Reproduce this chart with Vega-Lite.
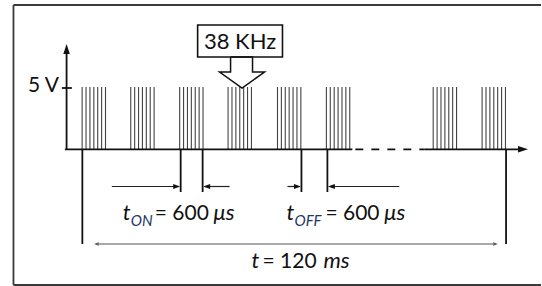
{
  "$schema": "https://vega.github.io/schema/vega-lite/v6.json",
  "width": 542,
  "height": 286,
  "autosize": {"type": "fit", "contains": "padding"},
  "padding": 0,
  "background": "white",
  "config": {"view": {"stroke": null}},
  "datasets": {
    "pulses": [
      {"x": 82.3}, {"x": 86.2}, {"x": 90.1}, {"x": 94.0}, {"x": 97.9}, {"x": 101.8}, {"x": 105.7},
      {"x": 131.0}, {"x": 134.9}, {"x": 138.8}, {"x": 142.7}, {"x": 146.6}, {"x": 150.5}, {"x": 154.4},
      {"x": 180.0}, {"x": 183.9}, {"x": 187.8}, {"x": 191.7}, {"x": 195.6}, {"x": 199.5}, {"x": 203.4},
      {"x": 228.5}, {"x": 232.4}, {"x": 236.3}, {"x": 240.2}, {"x": 244.1}, {"x": 248.0}, {"x": 251.9},
      {"x": 278.0}, {"x": 281.9}, {"x": 285.8}, {"x": 289.7}, {"x": 293.6}, {"x": 297.5}, {"x": 301.4},
      {"x": 327.0}, {"x": 330.9}, {"x": 334.8}, {"x": 338.7}, {"x": 342.6}, {"x": 346.5}, {"x": 350.4},
      {"x": 434.0}, {"x": 437.9}, {"x": 441.8}, {"x": 445.7}, {"x": 449.6}, {"x": 453.5}, {"x": 457.4},
      {"x": 483.0}, {"x": 486.9}, {"x": 490.8}, {"x": 494.7}, {"x": 498.6}, {"x": 502.5}, {"x": 506.4}
    ],
    "frame": [
      {"x": 13.5, "y": 5, "x2": 542, "y2": 5},
      {"x": 13.5, "y": 5, "x2": 13.5, "y2": 285},
      {"x": 13.5, "y": 285, "x2": 542, "y2": 285}
    ],
    "solid": [
      {"x": 66.7, "y": 52, "x2": 66.7, "y2": 150},
      {"x": 62, "y": 88, "x2": 72, "y2": 88},
      {"x": 65, "y": 149.3, "x2": 353, "y2": 149.3},
      {"x": 425, "y": 149.3, "x2": 520, "y2": 149.3},
      {"x": 82.5, "y": 149, "x2": 82.5, "y2": 244},
      {"x": 507, "y": 149, "x2": 507, "y2": 244},
      {"x": 181, "y": 149, "x2": 181, "y2": 192},
      {"x": 203, "y": 149, "x2": 203, "y2": 192},
      {"x": 302, "y": 149, "x2": 302, "y2": 192},
      {"x": 328, "y": 149, "x2": 328, "y2": 192}
    ],
    "thin": [
      {"x": 112, "y": 186.5, "x2": 175, "y2": 186.5},
      {"x": 230, "y": 186.5, "x2": 209, "y2": 186.5},
      {"x": 288, "y": 186.5, "x2": 296, "y2": 186.5},
      {"x": 400, "y": 186.5, "x2": 334, "y2": 186.5}
    ],
    "span": [
      {"x": 96, "y": 244, "x2": 497, "y2": 244}
    ],
    "dashed": [
      {"x": 356, "y": 149.3, "x2": 425, "y2": 149.3}
    ],
    "heads": [
      {"x": 66.7, "y": 44, "dir": "up", "kind": "axis"},
      {"x": 529, "y": 149.3, "dir": "right", "kind": "axis"},
      {"x": 180.5, "y": 186.5, "dir": "right", "kind": "dim"},
      {"x": 203.5, "y": 186.5, "dir": "left", "kind": "dim"},
      {"x": 301.5, "y": 186.5, "dir": "right", "kind": "dim"},
      {"x": 328.5, "y": 186.5, "dir": "left", "kind": "dim"}
    ],
    "open_heads": [
      {"x": 96, "y": 244, "dir": "left"},
      {"x": 497, "y": 244, "dir": "right"}
    ],
    "box": [
      {"x": 198, "y": 25, "x2": 283, "y2": 57}
    ],
    "hollow": [
      {"order": 1, "x": 231, "y": 57},
      {"order": 2, "x": 231, "y": 72},
      {"order": 3, "x": 220, "y": 72},
      {"order": 4, "x": 242.5, "y": 88},
      {"order": 5, "x": 265, "y": 72},
      {"order": 6, "x": 253, "y": 72},
      {"order": 7, "x": 253, "y": 57},
      {"order": 8, "x": 231, "y": 57}
    ],
    "labels": [
      {"text": "5 V", "x": 28, "y": 92, "kind": "small"},
      {"text": "38 KHz", "x": 240.5, "y": 48.5, "kind": "center"},
      {"text": "t", "x": 123, "y": 220, "kind": "italic"},
      {"text": "ON", "x": 131, "y": 226, "kind": "sub"},
      {"text": "= 600", "x": 155, "y": 220, "kind": "normal"},
      {"text": "μs", "x": 214, "y": 220, "kind": "italic"},
      {"text": "t", "x": 287, "y": 220, "kind": "italic"},
      {"text": "OFF", "x": 295, "y": 226, "kind": "sub"},
      {"text": "= 600", "x": 326, "y": 220, "kind": "normal"},
      {"text": "μs", "x": 385, "y": 220, "kind": "italic"},
      {"text": "t", "x": 252, "y": 268, "kind": "italic"},
      {"text": "= 120", "x": 263, "y": 268, "kind": "normal"},
      {"text": "ms", "x": 324, "y": 268, "kind": "italic"}
    ]
  },
  "layer": [
    {
      "data": {"name": "frame"},
      "mark": {"type": "rule", "stroke": "#3a3a3a", "strokeWidth": 1.8},
      "encoding": {
        "x": {"field": "x", "type": "quantitative", "scale": {"domain": [0, 542], "nice": false, "zero": false}, "axis": null},
        "y": {"field": "y", "type": "quantitative", "scale": {"domain": [0, 286], "nice": false, "zero": false, "reverse": true}, "axis": null},
        "x2": {"field": "x2"},
        "y2": {"field": "y2"}
      }
    },
    {
      "data": {"name": "pulses"},
      "mark": {"type": "rule", "stroke": "#444", "strokeWidth": 1.1},
      "encoding": {
        "x": {"field": "x", "type": "quantitative"},
        "y": {"datum": 87},
        "y2": {"datum": 149}
      }
    },
    {
      "data": {"name": "solid"},
      "mark": {"type": "rule", "stroke": "#111", "strokeWidth": 1.8},
      "encoding": {
        "x": {"field": "x", "type": "quantitative"},
        "y": {"field": "y", "type": "quantitative"},
        "x2": {"field": "x2"},
        "y2": {"field": "y2"}
      }
    },
    {
      "data": {"name": "dashed"},
      "mark": {"type": "rule", "stroke": "#111", "strokeWidth": 1.8, "strokeDash": [8, 8]},
      "encoding": {
        "x": {"field": "x", "type": "quantitative"},
        "y": {"field": "y", "type": "quantitative"},
        "x2": {"field": "x2"},
        "y2": {"field": "y2"}
      }
    },
    {
      "data": {"name": "thin"},
      "mark": {"type": "rule", "stroke": "#222", "strokeWidth": 1.2},
      "encoding": {
        "x": {"field": "x", "type": "quantitative"},
        "y": {"field": "y", "type": "quantitative"},
        "x2": {"field": "x2"},
        "y2": {"field": "y2"}
      }
    },
    {
      "data": {"name": "span"},
      "mark": {"type": "rule", "stroke": "#555", "strokeWidth": 1.2},
      "encoding": {
        "x": {"field": "x", "type": "quantitative"},
        "y": {"field": "y", "type": "quantitative"},
        "x2": {"field": "x2"},
        "y2": {"field": "y2"}
      }
    },
    {
      "data": {"name": "heads"},
      "transform": [{"filter": "datum.dir == 'up'"}],
      "mark": {"type": "point", "shape": "M0,0L-0.65,2L0.65,2Z", "size": 100, "filled": true, "fill": "#111", "opacity": 1, "strokeWidth": 0},
      "encoding": {
        "x": {"field": "x", "type": "quantitative"},
        "y": {"field": "y", "type": "quantitative"}
      }
    },
    {
      "data": {"name": "heads"},
      "transform": [{"filter": "datum.dir == 'right' && datum.kind == 'axis'"}],
      "mark": {"type": "point", "shape": "M0,0L-2,-0.65L-2,0.65Z", "size": 100, "filled": true, "fill": "#111", "opacity": 1, "strokeWidth": 0},
      "encoding": {
        "x": {"field": "x", "type": "quantitative"},
        "y": {"field": "y", "type": "quantitative"}
      }
    },
    {
      "data": {"name": "heads"},
      "transform": [{"filter": "datum.dir == 'right' && datum.kind == 'dim'"}],
      "mark": {"type": "point", "shape": "M0,0L-2,-0.7L-2,0.7Z", "size": 49, "filled": true, "fill": "#111", "opacity": 1, "strokeWidth": 0},
      "encoding": {
        "x": {"field": "x", "type": "quantitative"},
        "y": {"field": "y", "type": "quantitative"}
      }
    },
    {
      "data": {"name": "heads"},
      "transform": [{"filter": "datum.dir == 'left' && datum.kind == 'dim'"}],
      "mark": {"type": "point", "shape": "M0,0L2,-0.7L2,0.7Z", "size": 49, "filled": true, "fill": "#111", "opacity": 1, "strokeWidth": 0},
      "encoding": {
        "x": {"field": "x", "type": "quantitative"},
        "y": {"field": "y", "type": "quantitative"}
      }
    },
    {
      "data": {"name": "open_heads"},
      "transform": [{"filter": "datum.dir == 'left'"}],
      "mark": {"type": "point", "shape": "M2,-0.8L0,0L2,0.8", "size": 9, "filled": false, "stroke": "#555", "strokeWidth": 1.2, "opacity": 1},
      "encoding": {
        "x": {"field": "x", "type": "quantitative"},
        "y": {"field": "y", "type": "quantitative"}
      }
    },
    {
      "data": {"name": "open_heads"},
      "transform": [{"filter": "datum.dir == 'right'"}],
      "mark": {"type": "point", "shape": "M-2,-0.8L0,0L-2,0.8", "size": 9, "filled": false, "stroke": "#555", "strokeWidth": 1.2, "opacity": 1},
      "encoding": {
        "x": {"field": "x", "type": "quantitative"},
        "y": {"field": "y", "type": "quantitative"}
      }
    },
    {
      "data": {"name": "box"},
      "mark": {"type": "rect", "fill": "white", "stroke": "#111", "strokeWidth": 1.6},
      "encoding": {
        "x": {"field": "x", "type": "quantitative"},
        "y": {"field": "y", "type": "quantitative"},
        "x2": {"field": "x2"},
        "y2": {"field": "y2"}
      }
    },
    {
      "data": {"name": "hollow"},
      "mark": {"type": "line", "stroke": "#111", "strokeWidth": 1.5, "strokeJoin": "miter"},
      "encoding": {
        "x": {"field": "x", "type": "quantitative"},
        "y": {"field": "y", "type": "quantitative"},
        "order": {"field": "order", "type": "quantitative"}
      }
    },
    {
      "data": {"name": "labels"},
      "transform": [{"filter": "datum.kind == 'normal'"}],
      "mark": {"type": "text", "align": "left", "baseline": "alphabetic", "font": "Lato", "fontSize": 21, "fill": "#111"},
      "encoding": {
        "x": {"field": "x", "type": "quantitative"},
        "y": {"field": "y", "type": "quantitative"},
        "text": {"field": "text"}
      }
    },
    {
      "data": {"name": "labels"},
      "transform": [{"filter": "datum.kind == 'small'"}],
      "mark": {"type": "text", "align": "left", "baseline": "alphabetic", "font": "Lato", "fontSize": 21, "fill": "#111"},
      "encoding": {
        "x": {"field": "x", "type": "quantitative"},
        "y": {"field": "y", "type": "quantitative"},
        "text": {"field": "text"}
      }
    },
    {
      "data": {"name": "labels"},
      "transform": [{"filter": "datum.kind == 'center'"}],
      "mark": {"type": "text", "align": "center", "baseline": "alphabetic", "font": "Lato", "fontSize": 22, "fill": "#111"},
      "encoding": {
        "x": {"field": "x", "type": "quantitative"},
        "y": {"field": "y", "type": "quantitative"},
        "text": {"field": "text"}
      }
    },
    {
      "data": {"name": "labels"},
      "transform": [{"filter": "datum.kind == 'italic'"}],
      "mark": {"type": "text", "align": "left", "baseline": "alphabetic", "font": "Lato", "fontStyle": "italic", "fontSize": 22, "fill": "#111"},
      "encoding": {
        "x": {"field": "x", "type": "quantitative"},
        "y": {"field": "y", "type": "quantitative"},
        "text": {"field": "text"}
      }
    },
    {
      "data": {"name": "labels"},
      "transform": [{"filter": "datum.kind == 'sub'"}],
      "mark": {"type": "text", "align": "left", "baseline": "alphabetic", "font": "Lato", "fontStyle": "italic", "fontSize": 15, "fill": "#1f3868"},
      "encoding": {
        "x": {"field": "x", "type": "quantitative"},
        "y": {"field": "y", "type": "quantitative"},
        "text": {"field": "text"}
      }
    }
  ]
}
